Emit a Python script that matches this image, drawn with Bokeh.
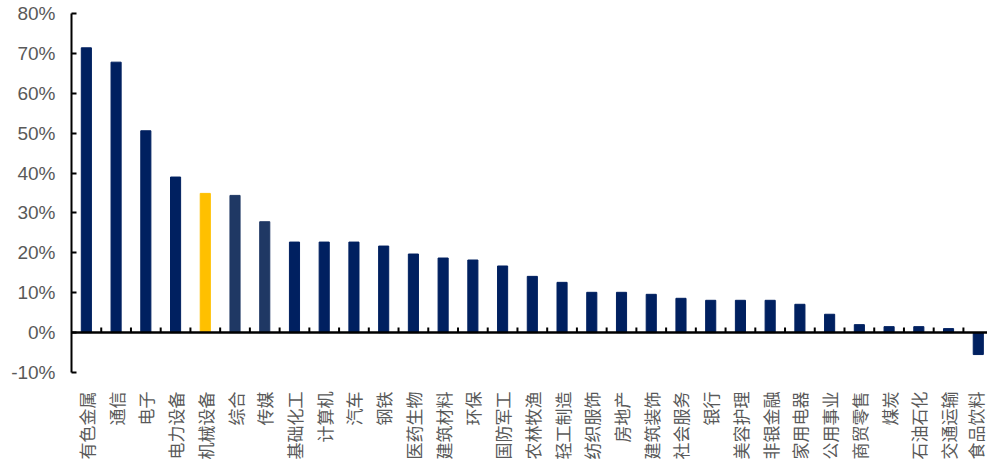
import math
from bokeh.plotting import figure
from bokeh.models import FixedTicker, Span, ColumnDataSource, PrintfTickFormatter
from bokeh.embed import file_html
from bokeh.resources import INLINE

categories = ["有色金属", "通信", "电子", "电力设备", "机械设备", "综合", "传媒", "基础化工",
              "计算机", "汽车", "钢铁", "医药生物", "建筑材料", "环保", "国防军工", "农林牧渔",
              "轻工制造", "纺织服饰", "房地产", "建筑装饰", "社会服务", "银行", "美容护理",
              "非银金融", "家用电器", "公用事业", "商贸零售", "煤炭", "石油石化", "交通运输", "食品饮料"]
values = [71.4, 67.8, 50.6, 39.0, 34.9, 34.4, 27.8, 22.7,
          22.7, 22.7, 21.7, 19.7, 18.7, 18.2, 16.7, 14.1,
          12.6, 10.1, 10.1, 9.6, 8.6, 8.1, 8.1,
          8.1, 7.1, 4.6, 2.0, 1.5, 1.5, 1.0, -5.5]
y_ticks = [-10, 0, 10, 20, 30, 40, 50, 60, 70, 80]

highlight = {"机械设备": "#FFC000", "综合": "#1F3864", "传媒": "#1F3864"}
base_color = "#002060"

xs = list(range(1, len(categories) + 1))
colors = [highlight.get(c, base_color) for c in categories]
src = ColumnDataSource(dict(x=xs, top=values, color=colors))

p = figure(width=987, height=462, output_backend="svg", toolbar_location=None,
           x_range=(0.5, 31.31), y_range=(-10, 80),
           min_border_left=71, min_border_right=0, min_border_top=13)
p.outline_line_color = None
p.xgrid.visible = False
p.ygrid.visible = False
p.background_fill_color = "white"

p.vbar(x="x", top="top", bottom=0, width=0.34, color="color", source=src)

# zero line
p.add_layout(Span(location=0, dimension="width", line_color="black", line_width=2.5))

# category boundary ticks on zero line
bounds = [i + 0.5 for i in xs[:-1]]
p.segment(x0=bounds, x1=bounds, y0=[0] * len(bounds), y1=[1.3] * len(bounds),
          line_color="black", line_width=2)

# y axis
ya = p.yaxis[0]
ya.ticker = FixedTicker(ticks=y_ticks)
ya.formatter = PrintfTickFormatter(format="%d%%")
ya.axis_line_color = "black"
ya.axis_line_width = 2
ya.major_tick_in = 5
ya.major_tick_out = 0
ya.major_tick_line_width = 2
ya.minor_tick_line_color = None
ya.major_label_text_font = "Liberation Sans"
ya.major_label_text_font_size = "19px"
ya.major_label_text_color = "#595959"
ya.major_label_standoff = 16

# x axis (labels only)
xa = p.xaxis[0]
xa.ticker = FixedTicker(ticks=xs)
xa.major_label_overrides = {i: c for i, c in zip(xs, categories)}
xa.major_label_orientation = math.pi / 2
xa.axis_line_color = None
xa.major_tick_line_color = None
xa.minor_tick_line_color = None
xa.major_label_text_font = "Noto Sans CJK SC"
xa.major_label_text_font_size = "17px"
xa.major_label_text_color = "#595959"
xa.major_label_standoff = 13

open("out.html", "w").write(file_html(p, INLINE))
